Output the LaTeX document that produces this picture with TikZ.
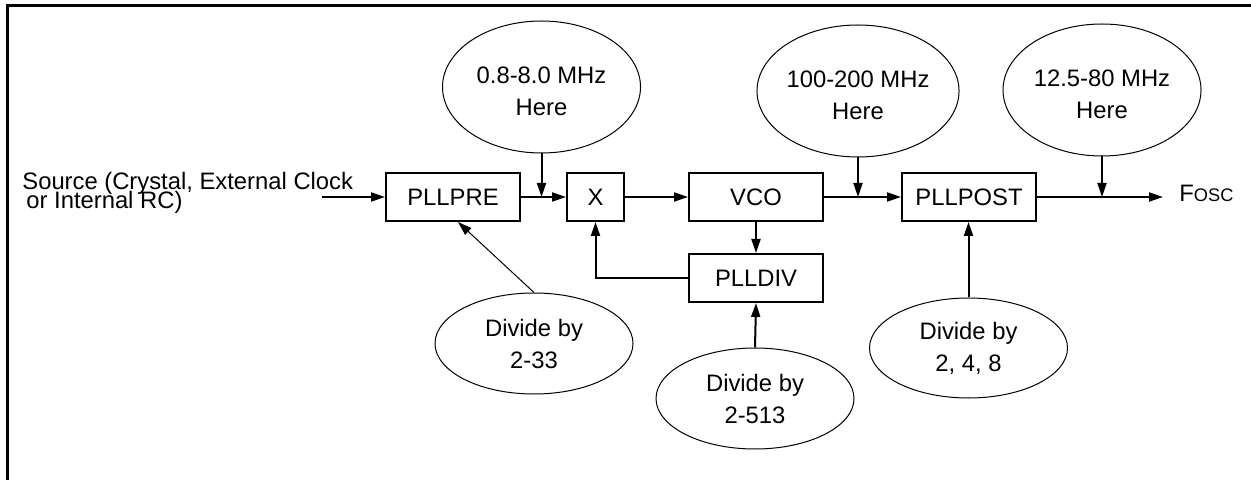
\documentclass[tikz,border=0pt]{standalone}
\usepackage{fontspec}
\setmainfont{Liberation Sans}
\usetikzlibrary{arrows.meta,shapes.geometric}
\tikzset{arw/.style={line width=1pt, -{Triangle[length=7pt,width=4.5pt]}},
  blk/.style={draw, line width=1pt, minimum width=67pt, minimum height=24pt, inner sep=0pt},
  oval/.style={draw, ellipse, line width=0.5pt, minimum width=99pt, inner sep=0pt, align=center},
  txt/.style={anchor=base west, inner sep=0pt}}
% top strut that pushes the text of the upper notes a little down
\newcommand{\lowstrut}{\rule{0pt}{12.5pt}}

\begin{document}
\begin{tikzpicture}[x=0.5pt, y=-0.5pt, font=\fontsize{11.9}{14}\selectfont]
  \useasboundingbox (0,0) rectangle (1251,480);
  % frame, top and left edges only
  \draw[line width=1.5pt] (7,480) -- (7,5.5) -- (1251,5.5);
  % blocks
  \node[blk] (pre) at (453,197) {PLLPRE};
  \node[blk, minimum width=28.5pt] (mul) at (595.5,197) {X};
  \node[blk] (vco) at (756,197) {VCO};
  \node[blk] (div) at (756,278) {PLLDIV};
  \node[blk] (post) at (969,197) {PLLPOST};
  % frequency notes above
  \node[oval, minimum height=66pt] (fin) at (541.5,87) {\lowstrut 0.8-8.0 MHz\\[2pt]Here};
  \node[oval, minimum height=66pt] (fvco) at (858,91) {\lowstrut 100-200 MHz\\[2pt]Here};
  \node[oval, minimum height=66pt] (fout) at (1102,90) {\lowstrut 12.5-80 MHz\\[2pt]Here};
  % divider notes below
  \node[oval, minimum height=50.5pt] (npre) at (534,343.5) {Divide by\\[2pt]2-33};
  \node[oval, minimum height=50.5pt] (ndiv) at (755,398.5) {Divide by\\[2pt]2-513};
  \node[oval, minimum height=50pt] (npost) at (968.5,348) {Divide by\\[2pt]2, 4, 8};
  % input and output labels
  \node[txt] (srcA) at (22,190) {Source (Crystal, External Clock};
  \node[txt] (srcB) at (26,208.5) {or Internal RC)};
  \node[txt] (fosclbl) at (1179,202) {F{\fontsize{9.1}{9}\selectfont OSC}};
  \coordinate (src) at (322,197);
  \coordinate (fosc) at (1163,197);
  % signal path
  \draw[arw] (src) -- (pre.west);
  \draw[arw] (pre.east) -- (mul.west);
  \draw[arw] (mul.east) -- (vco.west);
  \draw[arw] (vco.east) -- (post.west);
  \draw[arw] (post.east) -- (fosc);
  \draw[arw] (vco.south) -- (div.north);
  \draw[arw] (div.west) -| (mul.south);
  % notes pointing at the path
  \draw[arw] (fin.south) -- (fin.south |- pre.east);
  \draw[arw] (fvco.south) -- (fvco.south |- vco.east);
  \draw[arw] (fout.south) -- (fout.south |- post.east);
  \draw[arw, line width=0.5pt] (npre.north) -- ([xshift=2.5pt]pre.south);
  \draw[arw] (ndiv.north) -- (div.south);
  \draw[arw] (npost.north) -- (npost.north |- post.south);
\end{tikzpicture}
\end{document}
